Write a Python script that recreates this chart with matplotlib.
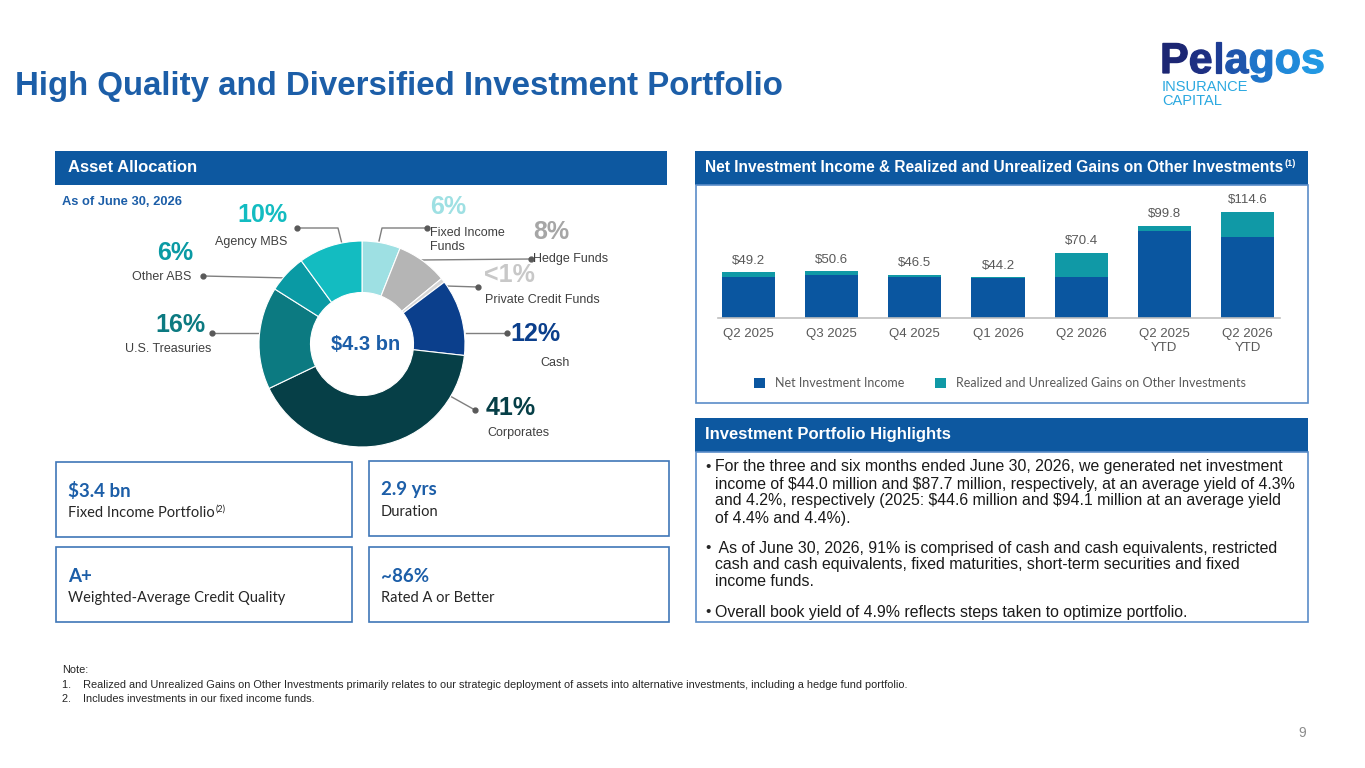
import matplotlib
matplotlib.use('Agg')
import matplotlib.pyplot as plt
import numpy as np
from matplotlib.patches import Rectangle, PathPatch
from matplotlib.textpath import TextPath, text_to_path
from matplotlib.font_manager import FontProperties, fontManager

plt.rcParams['text.parse_math'] = False

# Asset allocation data
alloc_names = ['Fixed Income\nFunds', 'Hedge Funds', 'Private Credit Funds', 'Cash',
               'Corporates', 'U.S. Treasuries', 'Other ABS', 'Agency MBS']
alloc_share = [6, 8, 0.7, 12, 41, 16, 6, 10]
alloc_pct = ['6%', '8%', '<1%', '12%', '41%', '16%', '6%', '10%']
alloc_colors = ['#9EE0E3', '#B5B5B5', '#D6D6D6', '#0B3F8C', '#063F47', '#0C7A81', '#0A9AA4', '#13BCC1']
pct_colors = ['#9EE0E3', '#A6A6A6', '#C8C8C8', '#0B3F8C', '#063F47', '#0C7A81', '#0A9AA4', '#13BCC1']

# Net investment income data ($ millions)
quarters = ['Q2 2025', 'Q3 2025', 'Q4 2025', 'Q1 2026', 'Q2 2026', 'Q2 2025\nYTD', 'Q2 2026\nYTD']
nii = [44.6, 46.0, 44.5, 43.7, 44.0, 94.1, 87.7]
gains = [4.6, 4.6, 2.0, 0.5, 26.4, 5.7, 26.9]
totals = [49.2, 50.6, 46.5, 44.2, 70.4, 99.8, 114.6]

# Key figures
kpi_values = ['$3.4 bn', '2.9 yrs', 'A+', '~86%']
kpi_labels = ['Fixed Income Portfolio', 'Duration', 'Weighted-Average Credit Quality', 'Rated A or Better']

bullets = [
    ['For the three and six months ended June 30, 2026, we generated net investment',
     'income of $44.0 million and $87.7 million, respectively, at an average yield of 4.3%',
     'and 4.2%, respectively (2025: $44.6 million and $94.1 million at an average yield',
     'of 4.4% and 4.4%).'],
    [' As of June 30, 2026, 91% is comprised of cash and cash equivalents, restricted',
     'cash and cash equivalents, fixed maturities, short-term securities and fixed',
     'income funds.'],
    ['Overall book yield of 4.9% reflects steps taken to optimize portfolio.'],
]

notes = ['Note:',
         '1.    Realized and Unrealized Gains on Other Investments primarily relates to our strategic deployment of assets into alternative investments, including a hedge fund portfolio.',
         '2.    Includes investments in our fixed income funds.']

W, H = 1365, 768
BLUE = '#1C5EA8'
HDR = '#0D58A0'
BORDER = '#5A8CC8'
NAVY_BAR = '#0A56A0'
TEAL_BAR = '#1099A6'
GREY = '#595959'
ARIAL = 'Liberation Sans'

names = {f.name for f in fontManager.ttflist}
narrow = 'Liberation Sans Narrow' if 'Liberation Sans Narrow' in names else None


def px_axes(x0, y0, x1, y1):
    return [x0 / W, 1 - y1 / H, (x1 - x0) / W, (y1 - y0) / H]


fig = plt.figure(figsize=(W / 100, H / 100), dpi=100)
bg = fig.add_axes([0, 0, 1, 1])
bg.set_xlim(0, W)
bg.set_ylim(H, 0)
bg.axis('off')
renderer = fig.canvas.get_renderer()


def sup_after(t, s, size, color, weight='normal', family=ARIAL):
    bb = t.get_window_extent(renderer)
    bg.text(bb.x1 + 1, H - bb.y1 - 1, s, fontsize=size, color=color, weight=weight,
            family=family, va='top', ha='left')


# Title
bg.text(15, 86, 'High Quality and Diversified Investment Portfolio', fontsize=23.8,
        weight='bold', color=BLUE, family=ARIAL, va='center')

# Logo: letters coloured from navy to bright blue
lax = fig.add_axes(px_axes(1150, 30, 1340, 120))
lax.axis('off')
lax.set_xlim(1150, 1340)
lax.set_ylim(0, 90)
logo_word = 'Pelagos'
logo_colors = ['#1C2673', '#1D2F82', '#1D3C93', '#1E55AC', '#1F74C9', '#2089D9', '#2298E3']
prop = FontProperties(family=ARIAL, weight='bold', size=43)
for k, ch in enumerate(logo_word):
    off = text_to_path.get_text_width_height_descent(logo_word[:k], prop, ismath=False)[0] if k else 0
    tp = TextPath((1160 + off, 120 - 73), ch, size=43, prop=prop)
    lax.add_patch(PathPatch(tp, facecolor=logo_colors[k], edgecolor=logo_colors[k], lw=0.9))
bg.text(1162, 87, 'INSURANCE', fontsize=10.5, color='#2AA8E0', family=ARIAL, va='center')
bg.text(1162, 101, 'CAPITAL', fontsize=10.5, color='#2AA8E0', family=ARIAL, va='center')

# Section headers
bg.add_patch(Rectangle((55, 151), 612, 34, color=HDR, lw=0))
bg.text(68, 168, 'Asset Allocation', color='white', weight='bold', fontsize=12, family=ARIAL, va='center')

bg.add_patch(Rectangle((695, 151), 613, 34, color=HDR, lw=0))
bg.add_patch(Rectangle((695.5, 185), 612, 218, fill=False, ec=BORDER, lw=1.2))
if narrow:
    t = bg.text(705, 168, 'Net Investment Income & Realized and Unrealized Gains on Other Investments',
                color='white', weight='bold', fontsize=12, family=narrow, va='center')
else:
    t = bg.text(705, 168, 'Net Investment Income & Realized and Unrealized Gains on Other Investments',
                color='white', weight='bold', fontsize=11.2, family=ARIAL, va='center')
sup_after(t, '(1)', 6.5, 'white', weight='bold')

bg.add_patch(Rectangle((695, 418), 613, 34, color=HDR, lw=0))
bg.add_patch(Rectangle((695.5, 452), 612, 170, fill=False, ec=BORDER, lw=1.2))
bg.text(705, 435, 'Investment Portfolio Highlights', color='white', weight='bold', fontsize=12,
        family=ARIAL, va='center')

bg.text(62, 202, 'As of June 30, 2026', color=BLUE, weight='bold', fontsize=9.3, family=ARIAL, va='center')

# Donut
cx, cy, R = 362, 344, 103
dax = fig.add_axes(px_axes(cx - 110, cy - 110, cx + 110, cy + 110))
dax.pie(alloc_share, colors=alloc_colors, startangle=90, counterclock=False, radius=1,
        wedgeprops=dict(width=0.5, edgecolor='white', linewidth=0.8))
dax.set_xlim(-110 / R, 110 / R)
dax.set_ylim(-110 / R, 110 / R)
dax.text(0.04, 0, '$4.3 bn', ha='center', va='center', fontsize=14.5, weight='bold', color=BLUE, family=ARIAL)

pct_pos = [(448, 207), (551, 232), (509, 275), (535, 334), (511, 408), (180, 325), (175, 253), (262, 215)]
name_pos = [(430, 240), (571, 259), (542, 300), (555, 363), (518, 433), (168, 349), (162, 277), (251, 242)]
leaders = [
    [(379, 241), (382, 228), (427, 228)],
    [(420, 260), (531, 259)],
    [(446, 286), (478, 287)],
    [(466, 333), (507, 333)],
    [(450, 396), (475, 410)],
    [(263, 333), (212, 333)],
    [(289, 278), (203, 276)],
    [(342, 244), (338, 228), (297, 228)],
]
for i in range(len(alloc_names)):
    px, py = pct_pos[i]
    bg.text(px, py, alloc_pct[i], ha='center', va='center', fontsize=18, weight='bold',
            color=pct_colors[i], family=ARIAL)
    nx, ny = name_pos[i]
    if i == 0:
        bg.text(nx, ny, alloc_names[i], ha='left', va='center', fontsize=9, color='#404040',
                family=ARIAL, linespacing=1.15)
    else:
        bg.text(nx, ny, alloc_names[i], ha='center', va='center', fontsize=9, color='#404040', family=ARIAL)
    xs = [p[0] for p in leaders[i]]
    ys = [p[1] for p in leaders[i]]
    bg.plot(xs, ys, color='#7F7F7F', lw=1)
    bg.plot(xs[-1], ys[-1], 'o', color='#595959', ms=3.5)

# Bar chart
bax = fig.add_axes(px_axes(718, 190, 1280, 318))
x = np.arange(len(quarters))
b1 = bax.bar(x, nii, width=0.64, color=NAVY_BAR, label='Net Investment Income')
b2 = bax.bar(x, gains, width=0.64, bottom=nii, color=TEAL_BAR,
             label='Realized and Unrealized Gains on Other Investments')
bax.bar_label(b2, labels=[f'${v:.1f}' for v in totals], padding=4, fontsize=9.5, color=GREY, family=ARIAL)
bax.set_xlim(-0.366, 6.39)
bax.set_ylim(0, 138.4)
for s in ['top', 'right', 'left']:
    bax.spines[s].set_visible(False)
bax.spines['bottom'].set_color('#BFBFBF')
bax.spines['bottom'].set_linewidth(1.2)
bax.set_yticks([])
bax.set_xticks(x)
bax.set_xticklabels(quarters, fontsize=9.5, color=GREY, family=ARIAL, linespacing=1.3)
bax.tick_params(axis='x', length=0, pad=7)
bax.patch.set_alpha(0)
fig.legend(handles=[b1, b2], loc='center', bbox_to_anchor=(1000 / W, 1 - 383 / H), ncol=2, frameon=False,
           prop=dict(family='Lato', size=9), labelcolor=GREY, handlelength=0.9, handleheight=0.9,
           columnspacing=2.4, handletextpad=0.8)

# Highlights bullets
y = 467
for lines in bullets:
    bg.text(705, y, '\u2022', fontsize=11, color='#262626', family=ARIAL, va='center')
    for ln in lines:
        bg.text(715, y, ln, fontsize=11.45, color='#1A1A1A', family=ARIAL, va='center')
        y += 17
    y += 13

# KPI boxes
box_xy = [(55, 462), (368, 461), (55, 547), (368, 547)]
for i, (bx, by) in enumerate(box_xy):
    bg.add_patch(Rectangle((bx + 0.5, by), 296 if bx == 55 else 300, 75, fill=False, ec='#3F77B8', lw=1.2))
    bg.text(bx + 13, by + 29, kpi_values[i], fontsize=13.5, weight='bold', color=BLUE, family='Lato', va='center')
    t = bg.text(bx + 13, by + 51, kpi_labels[i], fontsize=10.5, color='#262626', family='Lato', va='center')
    if i == 0:
        sup_after(t, '(2)', 6.5, '#262626', family='Lato')

# Notes
for j, n in enumerate(notes):
    bg.text(62, 670 + j * 14.5, n, fontsize=7.9, color='#262626', family=ARIAL, va='center')

bg.text(1302, 733, '9', fontsize=10, color='#8C8C8C', family=ARIAL, ha='center', va='center')

fig.savefig('out.png', dpi=100)
